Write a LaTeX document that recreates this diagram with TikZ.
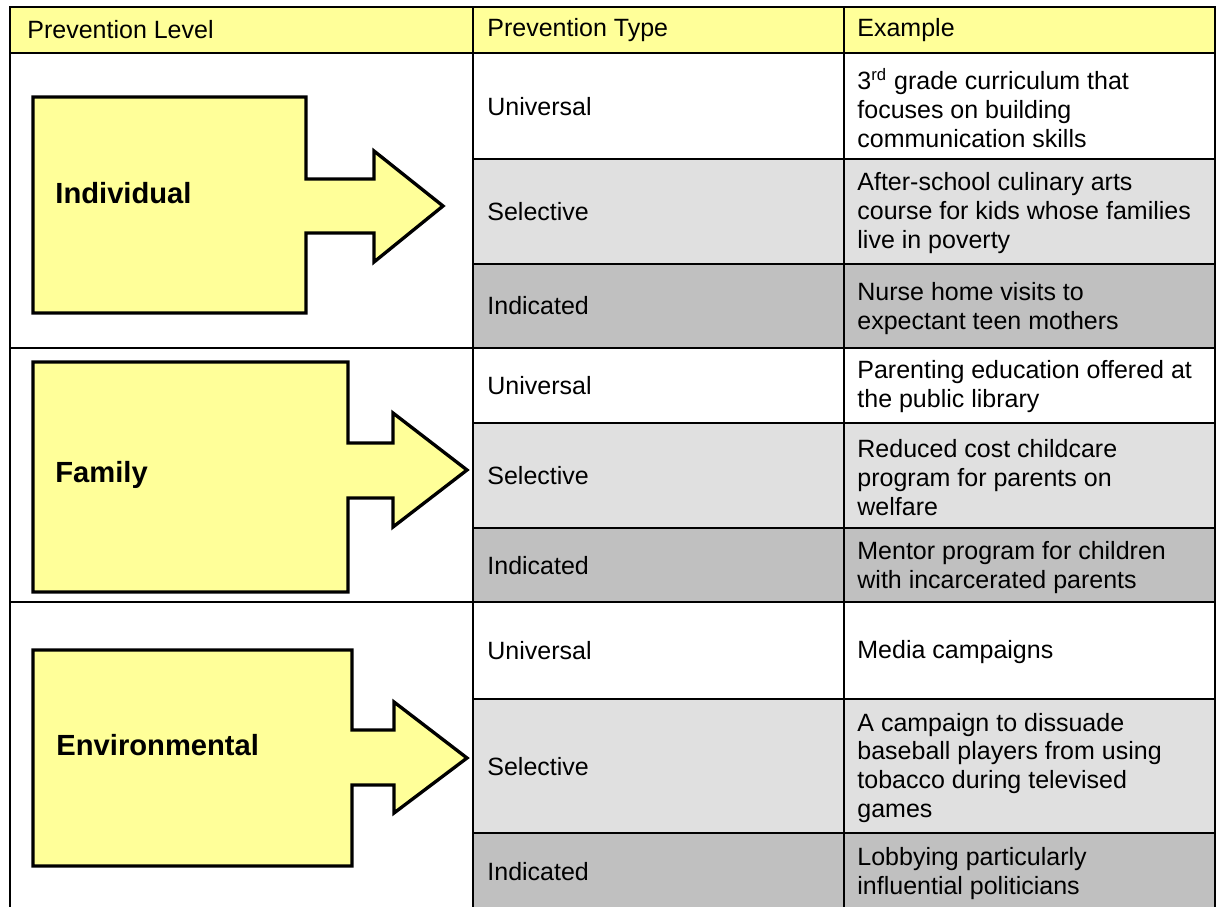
\documentclass[tikz,border=0pt]{standalone}
\usepackage{fontspec}
\setmainfont{Liberation Sans}
\usepackage{xcolor}
\usetikzlibrary{positioning}

\definecolor{headyellow}{HTML}{FFFF99}
\definecolor{selgray}{HTML}{E0E0E0}
\definecolor{indgray}{HTML}{C0C0C0}

\tikzset{
    cell/.style={anchor=west, align=left, inner sep=0pt,
        font=\fontsize{12}{13.9}\selectfont},
    level/.style={anchor=west, inner sep=0pt,
        font=\fontsize{14}{16}\selectfont\bfseries},
    levelarrow/.style={draw=black, fill=headyellow, line width=1.6pt, line join=miter},
    gridline/.style={line width=0.8pt},
    frameline/.style={line width=1.2pt}
}

\begin{document}
\begin{tikzpicture}[x=0.48pt, y=-0.48pt]
    \useasboundingbox (0, 0) rectangle (1220, 907);

    % shading of header and rows
    \fill[headyellow] (10, 7) rectangle (1215, 53);
    \fill[selgray] (473, 159) rectangle (1215, 264);
    \fill[indgray] (473, 264) rectangle (1215, 348);
    \fill[selgray] (473, 423) rectangle (1215, 528);
    \fill[indgray] (473, 528) rectangle (1215, 602);
    \fill[selgray] (473, 699) rectangle (1215, 833);
    \fill[indgray] (473, 833) rectangle (1215, 912);

    % table rules
    \draw[gridline] (10, 53) -- (1215, 53);
    \draw[gridline] (10, 348) -- (1215, 348);
    \draw[gridline] (10, 602) -- (1215, 602);
    \draw[gridline] (473, 159) -- (1215, 159);
    \draw[gridline] (473, 264) -- (1215, 264);
    \draw[gridline] (473, 423) -- (1215, 423);
    \draw[gridline] (473, 528) -- (1215, 528);
    \draw[gridline] (473, 699) -- (1215, 699);
    \draw[gridline] (473, 833) -- (1215, 833);
    \draw[gridline] (473, 7) -- (473, 912);
    \draw[gridline] (844, 7) -- (844, 912);
    \draw[frameline] (10, 912) -- (10, 7) -- (1215, 7) -- (1215, 912);

    % level arrows
    \draw[levelarrow] (33, 97) -- (306, 97) -- (306, 179) -- (374, 179) -- (374, 151)
        -- (443, 206) -- (374, 262) -- (374, 233) -- (306, 233) -- (306, 313)
        -- (33, 313) -- cycle;
    \draw[levelarrow] (33, 362) -- (348, 362) -- (348, 443) -- (393, 443) -- (393, 413)
        -- (467, 470) -- (393, 527) -- (393, 498) -- (348, 498) -- (348, 592)
        -- (33, 592) -- cycle;
    \draw[levelarrow] (33, 650) -- (352, 650) -- (352, 730) -- (394, 730) -- (394, 702)
        -- (467, 758) -- (394, 813) -- (394, 785) -- (352, 785) -- (352, 866)
        -- (33, 866) -- cycle;

    \node[level] (individual) at (55, 193) {Individual};
    \node[level] (family) at (55, 475) {Family};
    \node[level] (environmental) at (56, 745) {Environmental};

    % header
    \node[cell] (hlevel) at (27, 30) {Prevention Level};
    \node[cell] (htype) at (487, 30) {Prevention Type};
    \node[cell] (hexample) at (857, 30) {Example};

    % individual
    \node[cell] (iuni) at (487, 107) {Universal};
    \node[cell] (iunitext) at (857, 108) {3\textsuperscript{rd} grade curriculum that\\focuses on building\\communication skills};
    \node[cell] (isel) at (487, 212) {Selective};
    \node[cell] (iseltext) at (857, 213) {After-school culinary arts\\course for kids whose families\\live in poverty};
    \node[cell] (iind) at (487, 306) {Indicated};
    \node[cell] (iindtext) at (857, 309) {Nurse home visits to\\expectant teen mothers};

    % family
    \node[cell] (funi) at (487, 386) {Universal};
    \node[cell] (funitext) at (857, 387) {Parenting education offered at\\the public library};
    \node[cell] (fsel) at (487, 476) {Selective};
    \node[cell] (fseltext) at (857, 478) {Reduced cost childcare\\program for parents on\\welfare};
    \node[cell] (find) at (487, 566) {Indicated};
    \node[cell] (findtext) at (857, 568) {Mentor program for children\\with incarcerated parents};

    % environmental
    \node[cell] (euni) at (487, 651) {Universal};
    \node[cell] (eunitext) at (857, 652) {Media campaigns};
    \node[cell] (esel) at (487, 767) {Selective};
    \node[cell] (eseltext) at (857, 768) {A campaign to dissuade\\baseball players from using\\tobacco during televised\\games};
    \node[cell] (eind) at (487, 872) {Indicated};
    \node[cell] (eindtext) at (857, 874) {Lobbying particularly\\influential politicians};
\end{tikzpicture}
\end{document}
